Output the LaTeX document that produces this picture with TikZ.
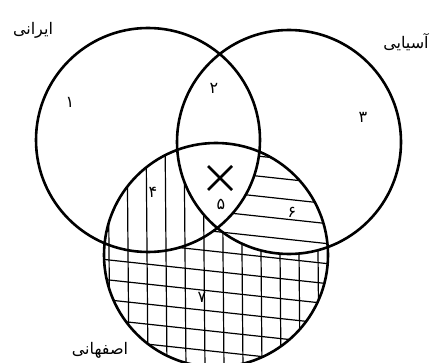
\documentclass[tikz,border=0pt]{standalone}
\usepackage{fontspec}
\newfontfamily\arabicfont[Script=Arabic]{DejaVu Sans}
\TeXXeTstate=1
\usetikzlibrary{positioning}
\tikzset{
  setline/.style={line width=2.6pt},
  hatch/.style={line width=1.2pt},
  lbl/.style={font=\arabicfont\fontsize{16}{18}\selectfont, inner sep=1pt},
  digit/.style={font=\arabicfont\fontsize{16}{18}\selectfont, inner sep=1pt}
}
\begin{document}
\begin{tikzpicture}[x=1pt, y=-1pt]
        \useasboundingbox (0,0) rectangle (438,363);
        % region 4 and 7: vertical lines
        \begin{scope}[even odd rule]
          \clip (216,255) circle (112);
          \clip (0,0) rectangle (438,363) (289,142) circle (112);
          \foreach \x in {108,127,...,330} { \draw[hatch] (\x,130) -- (\x+2,370); }
        \end{scope}
        % region 6 and 7: horizontal lines
        \begin{scope}[even odd rule]
          \clip (216,255) circle (112);
          \clip (0,0) rectangle (438,363) (148,140) circle (112);
          \foreach \y in {152,172,...,390} { \draw[hatch] (100,\y-13) -- (340,\y+13); }
        \end{scope}
        % the three sets
        \draw[setline] (148,140) circle (112);
        \draw[setline] (289,142) circle (112);
        \draw[setline] (216,255) circle (112);
        \node[lbl] (iran) at (33,30) {\beginR ایرانی\endR};
        \node[lbl] (asia) at (406,42) {\beginR آسیایی\endR};
        \node[lbl] (isfahan) at (100,350) {\beginR اصفهانی\endR};
        \node[digit] (r1) at (70,102) {۱};
        \node[digit] (r2) at (214,88) {۲};
        \node[digit] (r3) at (363,117) {۳};
        \node[digit] (r4) at (153,192) {۴};
        \node[digit] (r5) at (221,204) {۵};
        \node[digit] (r6) at (292,212) {۶};
        \node[digit] (r7) at (202,297) {۷};
        % mark
        \draw[setline] (208,166) -- (232,190);
        \draw[setline] (232,166) -- (208,190);
      \end{tikzpicture}
\end{document}
